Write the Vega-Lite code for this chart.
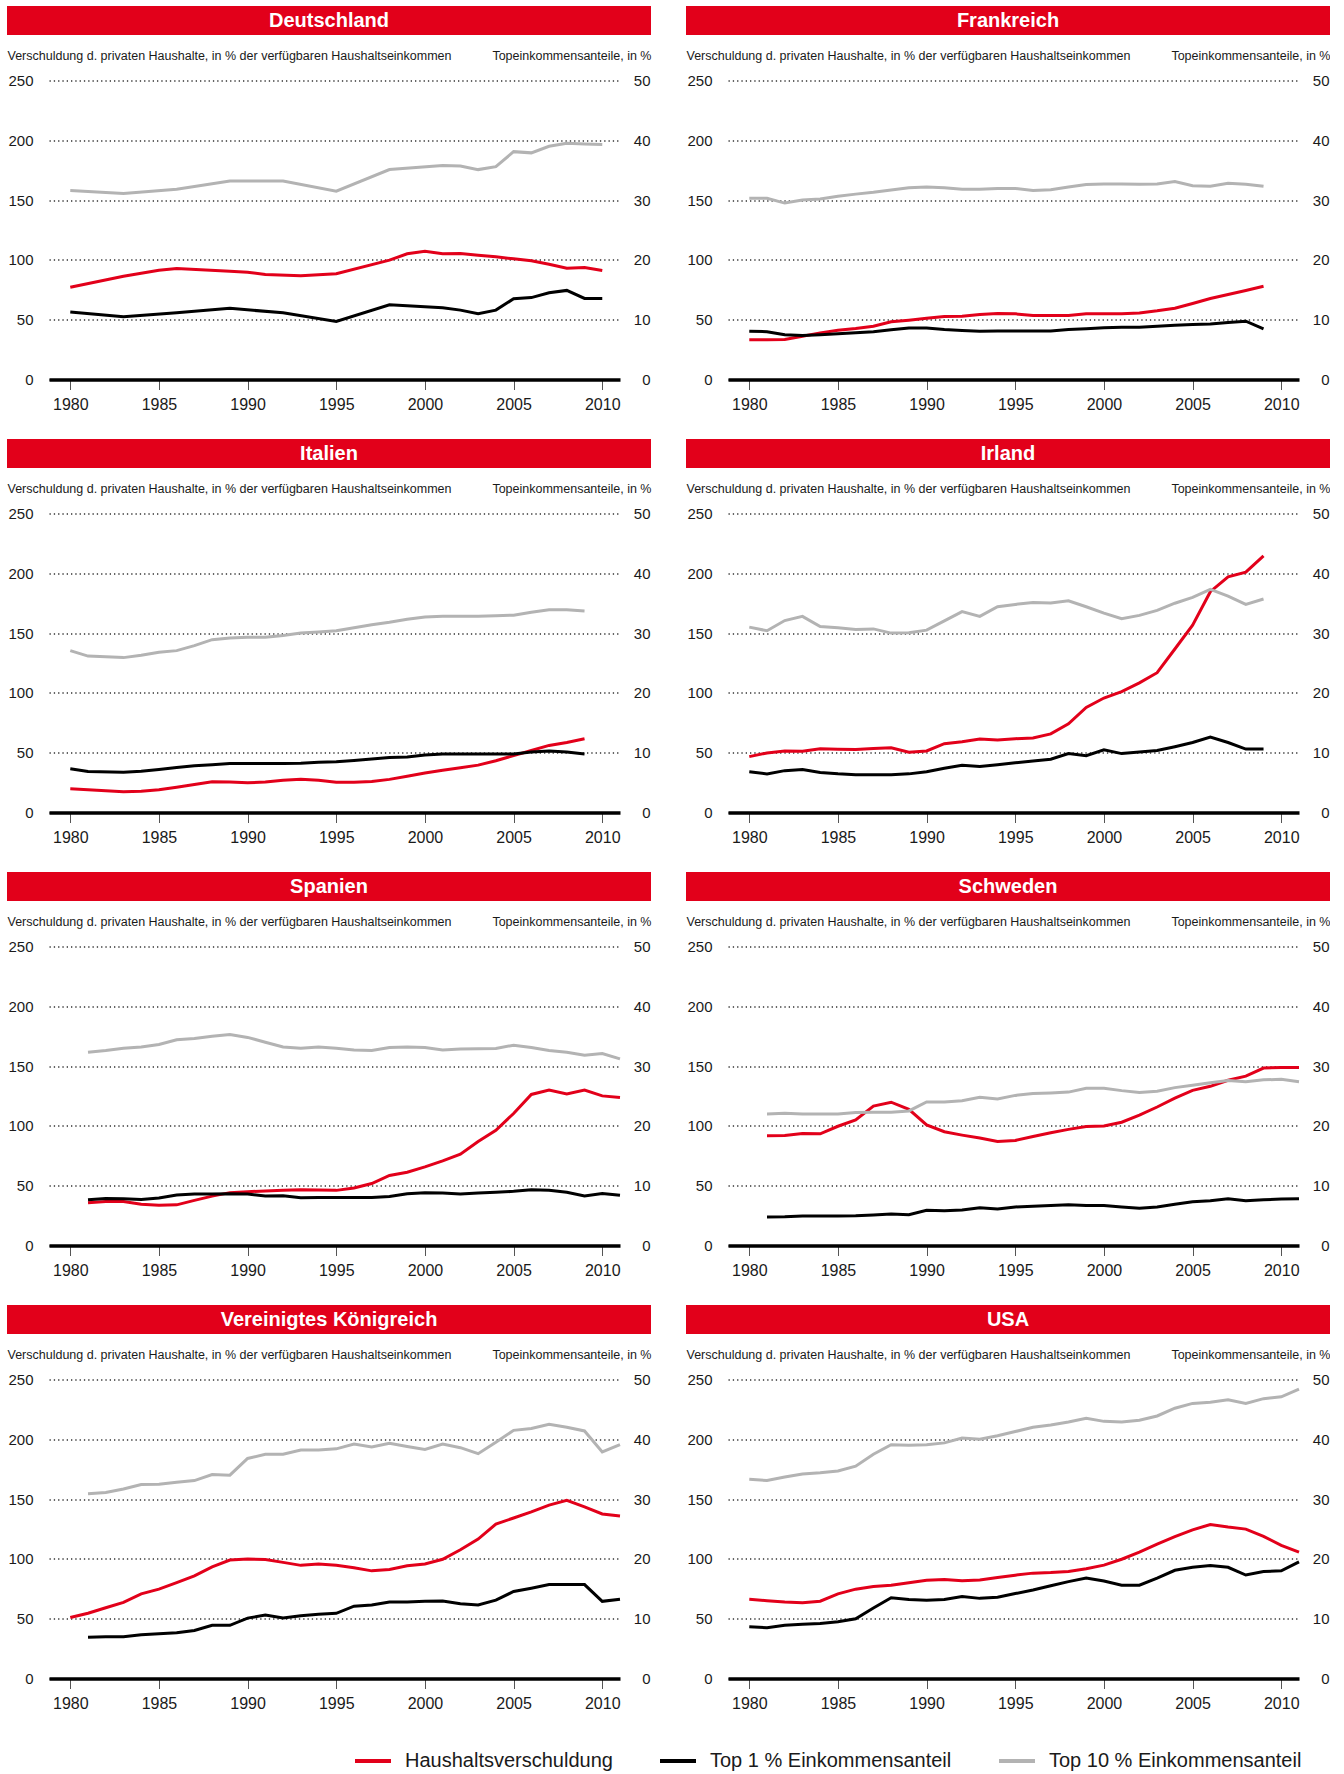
{
"$schema":"https://vega.github.io/schema/vega-lite/v6.json",
"padding":{"left":7,"top":6,"right":0,"bottom":0},
"background":"white",
"datasets":{"rows":[
{"c":"DE","year":1980,"d":77.2,"t1":11.3,"t10":31.6},
{"c":"DE","year":1983,"d":86.4,"t1":10.5,"t10":31.1},
{"c":"DE","year":1985,"d":91.4},
{"c":"DE","year":1986,"d":92.8,"t1":11.15,"t10":31.8},
{"c":"DE","year":1989,"d":90.6,"t1":11.9,"t10":33.2},
{"c":"DE","year":1990,"d":89.7},
{"c":"DE","year":1991,"d":87.8},
{"c":"DE","year":1992,"t1":11.15,"t10":33.2},
{"c":"DE","year":1993,"d":86.7},
{"c":"DE","year":1995,"d":88.4,"t1":9.7,"t10":31.5},
{"c":"DE","year":1998,"d":99.8,"t1":12.5,"t10":35.1},
{"c":"DE","year":1999,"d":105.1},
{"c":"DE","year":2000,"d":107.3},
{"c":"DE","year":2001,"d":105.1,"t1":12.0,"t10":35.8},
{"c":"DE","year":2002,"d":105.3,"t1":11.6,"t10":35.7},
{"c":"DE","year":2003,"d":103.9,"t1":11.0,"t10":35.1},
{"c":"DE","year":2004,"d":102.6,"t1":11.6,"t10":35.6},
{"c":"DE","year":2005,"d":100.9,"t1":13.5,"t10":38.1},
{"c":"DE","year":2006,"d":99.2,"t1":13.7,"t10":37.9},
{"c":"DE","year":2007,"d":96.4,"t1":14.5,"t10":39.0},
{"c":"DE","year":2008,"d":93.1,"t1":14.9,"t10":39.5},
{"c":"DE","year":2009,"d":93.6,"t1":13.55,"t10":39.4},
{"c":"DE","year":2010,"d":91.1,"t1":13.55,"t10":39.3},
{"c":"FR","year":1980,"d":33.2,"t1":8.08,"t10":30.3},
{"c":"FR","year":1981,"d":33.2,"t1":8.0,"t10":30.3},
{"c":"FR","year":1982,"d":33.4,"t1":7.47,"t10":29.5},
{"c":"FR","year":1983,"d":36.2,"t1":7.36,"t10":30.0},
{"c":"FR","year":1984,"d":39.0,"t1":7.47,"t10":30.2},
{"c":"FR","year":1985,"d":41.2,"t1":7.64,"t10":30.65},
{"c":"FR","year":1986,"d":42.6,"t1":7.8,"t10":31.0},
{"c":"FR","year":1987,"d":44.6,"t1":8.0,"t10":31.3},
{"c":"FR","year":1988,"d":48.2,"t1":8.3,"t10":31.7},
{"c":"FR","year":1989,"d":49.6,"t1":8.6,"t10":32.05},
{"c":"FR","year":1990,"d":51.3,"t1":8.6,"t10":32.2},
{"c":"FR","year":1991,"d":52.7,"t1":8.36,"t10":32.05},
{"c":"FR","year":1992,"d":52.9,"t1":8.2,"t10":31.8},
{"c":"FR","year":1993,"d":54.3,"t1":8.08,"t10":31.8},
{"c":"FR","year":1994,"d":55.2,"t1":8.13,"t10":31.95},
{"c":"FR","year":1995,"d":54.9,"t1":8.13,"t10":31.95},
{"c":"FR","year":1996,"d":53.5,"t1":8.13,"t10":31.6},
{"c":"FR","year":1997,"d":53.5,"t1":8.13,"t10":31.75},
{"c":"FR","year":1998,"d":53.5,"t1":8.36,"t10":32.2},
{"c":"FR","year":1999,"d":54.9,"t1":8.47,"t10":32.6},
{"c":"FR","year":2000,"d":54.9,"t1":8.64,"t10":32.7},
{"c":"FR","year":2001,"d":54.9,"t1":8.75,"t10":32.7},
{"c":"FR","year":2002,"d":55.7,"t1":8.75,"t10":32.65},
{"c":"FR","year":2003,"d":57.4,"t1":8.92,"t10":32.7},
{"c":"FR","year":2004,"d":59.6,"t1":9.09,"t10":33.1},
{"c":"FR","year":2005,"d":63.5,"t1":9.2,"t10":32.4},
{"c":"FR","year":2006,"d":67.7,"t1":9.3,"t10":32.3},
{"c":"FR","year":2007,"d":71.1,"t1":9.53,"t10":32.8},
{"c":"FR","year":2008,"d":74.4,"t1":9.75,"t10":32.65},
{"c":"FR","year":2009,"d":78.0,"t1":8.47,"t10":32.3},
{"c":"IT","year":1980,"d":19.8,"t1":7.3,"t10":27.07},
{"c":"IT","year":1981,"d":19.0,"t1":6.85,"t10":26.16},
{"c":"IT","year":1983,"d":17.3,"t1":6.74,"t10":25.9},
{"c":"IT","year":1984,"d":17.8,"t1":6.9,"t10":26.3},
{"c":"IT","year":1985,"d":19.0,"t1":7.2,"t10":26.8},
{"c":"IT","year":1986,"d":21.2,"t1":7.53,"t10":27.07},
{"c":"IT","year":1987,"d":23.5,"t1":7.8,"t10":27.9},
{"c":"IT","year":1988,"d":25.8,"t1":7.98,"t10":28.9},
{"c":"IT","year":1989,"d":25.5,"t1":8.2,"t10":29.2},
{"c":"IT","year":1990,"d":24.9,"t1":8.2,"t10":29.3},
{"c":"IT","year":1991,"d":25.5,"t1":8.2,"t10":29.3},
{"c":"IT","year":1992,"d":26.9,"t1":8.2,"t10":29.6},
{"c":"IT","year":1993,"d":27.7,"t1":8.25,"t10":30.0},
{"c":"IT","year":1994,"d":26.9,"t1":8.4,"t10":30.2},
{"c":"IT","year":1995,"d":25.2,"t1":8.5,"t10":30.4},
{"c":"IT","year":1996,"d":25.2,"t1":8.7,"t10":30.9},
{"c":"IT","year":1997,"d":26.0,"t1":8.95,"t10":31.4},
{"c":"IT","year":1998,"d":27.7,"t1":9.2,"t10":31.8},
{"c":"IT","year":1999,"d":30.3,"t1":9.3,"t10":32.3},
{"c":"IT","year":2000,"d":33.1,"t1":9.6,"t10":32.7},
{"c":"IT","year":2001,"d":35.4,"t1":9.8,"t10":32.8},
{"c":"IT","year":2002,"d":37.4,"t1":9.8,"t10":32.8},
{"c":"IT","year":2003,"d":39.6,"t1":9.8,"t10":32.8},
{"c":"IT","year":2004,"d":43.3,"t1":9.8,"t10":32.9},
{"c":"IT","year":2005,"d":47.6,"t1":9.8,"t10":33.0},
{"c":"IT","year":2006,"d":51.8,"t1":10.1,"t10":33.5},
{"c":"IT","year":2007,"d":56.1,"t1":10.3,"t10":33.9},
{"c":"IT","year":2008,"d":58.6,"t1":10.1,"t10":33.9},
{"c":"IT","year":2009,"d":61.7,"t1":9.8,"t10":33.7},
{"c":"IE","year":1980,"d":46.7,"t1":6.8,"t10":31.0},
{"c":"IE","year":1981,"d":49.8,"t1":6.46,"t10":30.4},
{"c":"IE","year":1982,"d":51.5,"t1":7.0,"t10":32.1},
{"c":"IE","year":1983,"d":51.2,"t1":7.2,"t10":32.8},
{"c":"IE","year":1984,"d":53.2,"t1":6.7,"t10":31.1},
{"c":"IE","year":1985,"d":52.9,"t1":6.46,"t10":30.9},
{"c":"IE","year":1986,"d":52.7,"t1":6.3,"t10":30.6},
{"c":"IE","year":1987,"d":53.5,"t1":6.3,"t10":30.7},
{"c":"IE","year":1988,"d":54.1,"t1":6.3,"t10":30.0},
{"c":"IE","year":1989,"d":50.4,"t1":6.46,"t10":30.07},
{"c":"IE","year":1990,"d":51.5,"t1":6.8,"t10":30.5},
{"c":"IE","year":1991,"d":57.5,"t1":7.4,"t10":32.05},
{"c":"IE","year":1992,"d":59.2,"t1":7.9,"t10":33.6},
{"c":"IE","year":1993,"d":61.4,"t1":7.7,"t10":32.8},
{"c":"IE","year":1994,"d":60.6,"t1":8.0,"t10":34.4},
{"c":"IE","year":1995,"d":61.7,"t1":8.3,"t10":34.8},
{"c":"IE","year":1996,"d":62.3,"t1":8.6,"t10":35.1},
{"c":"IE","year":1997,"d":65.7,"t1":8.9,"t10":35.05},
{"c":"IE","year":1998,"d":74.2,"t1":9.85,"t10":35.4},
{"c":"IE","year":1999,"d":87.8,"t1":9.5,"t10":34.4},
{"c":"IE","year":2000,"d":95.7,"t1":10.5,"t10":33.35},
{"c":"IE","year":2001,"d":101.1,"t1":9.85,"t10":32.4},
{"c":"IE","year":2002,"d":108.4,"t1":10.1,"t10":32.96},
{"c":"IE","year":2003,"d":116.9,"t1":10.36,"t10":33.8},
{"c":"IE","year":2004,"d":136.7,"t1":11.0,"t10":35.0},
{"c":"IE","year":2005,"d":156.6,"t1":11.7,"t10":35.96},
{"c":"IE","year":2006,"d":184.6,"t1":12.6,"t10":37.3},
{"c":"IE","year":2007,"d":197.1,"t1":11.7,"t10":36.2},
{"c":"IE","year":2008,"d":201.0,"t1":10.6,"t10":34.8},
{"c":"IE","year":2009,"d":214.6,"t1":10.6,"t10":35.7},
{"c":"ES","year":1981,"d":35.7,"t1":7.64,"t10":32.3},
{"c":"ES","year":1982,"d":36.8,"t1":7.87,"t10":32.6},
{"c":"ES","year":1983,"d":36.8,"t1":7.8,"t10":33.0},
{"c":"ES","year":1984,"d":34.5,"t1":7.7,"t10":33.2},
{"c":"ES","year":1985,"d":33.7,"t1":7.93,"t10":33.6},
{"c":"ES","year":1986,"d":34.0,"t1":8.44,"t10":34.4},
{"c":"ES","year":1987,"d":37.7,"t1":8.6,"t10":34.6},
{"c":"ES","year":1988,"d":41.3,"t1":8.6,"t10":35.0},
{"c":"ES","year":1989,"d":44.2,"t1":8.66,"t10":35.3},
{"c":"ES","year":1990,"d":45.0,"t1":8.6,"t10":34.8},
{"c":"ES","year":1991,"d":45.6,"t1":8.27,"t10":34.0},
{"c":"ES","year":1992,"d":46.1,"t1":8.3,"t10":33.2},
{"c":"ES","year":1993,"d":46.7,"t1":7.98,"t10":33.0},
{"c":"ES","year":1994,"d":46.4,"t1":8.04,"t10":33.2},
{"c":"ES","year":1995,"d":46.1,"t1":8.04,"t10":33.0},
{"c":"ES","year":1996,"d":48.1,"t1":8.04,"t10":32.7},
{"c":"ES","year":1997,"d":51.8,"t1":8.04,"t10":32.6},
{"c":"ES","year":1998,"d":58.6,"t1":8.2,"t10":33.1},
{"c":"ES","year":1999,"d":61.2,"t1":8.66,"t10":33.2},
{"c":"ES","year":2000,"d":65.7,"t1":8.83,"t10":33.1},
{"c":"ES","year":2001,"d":70.8,"t1":8.78,"t10":32.7},
{"c":"ES","year":2002,"d":76.4,"t1":8.6,"t10":32.85},
{"c":"ES","year":2003,"d":86.9,"t1":8.78,"t10":32.9},
{"c":"ES","year":2004,"d":96.3,"t1":8.9,"t10":32.95},
{"c":"ES","year":2005,"d":110.4,"t1":9.06,"t10":33.5},
{"c":"ES","year":2006,"d":126.3,"t1":9.34,"t10":33.1},
{"c":"ES","year":2007,"d":130.0,"t1":9.23,"t10":32.6},
{"c":"ES","year":2008,"d":126.6,"t1":8.9,"t10":32.3},
{"c":"ES","year":2009,"d":130.0,"t1":8.3,"t10":31.8},
{"c":"ES","year":2010,"d":125.1,"t1":8.7,"t10":32.1},
{"c":"ES","year":2011,"d":123.7,"t1":8.4,"t10":31.2},
{"c":"SE","year":1981,"d":91.7,"t1":4.76,"t10":22.0},
{"c":"SE","year":1982,"d":92.0,"t1":4.8,"t10":22.1},
{"c":"SE","year":1983,"d":93.7,"t1":4.93,"t10":22.0},
{"c":"SE","year":1984,"d":93.4,"t1":4.93,"t10":22.0},
{"c":"SE","year":1985,"d":99.7,"t1":4.93,"t10":22.0},
{"c":"SE","year":1986,"d":105.0,"t1":4.98,"t10":22.25},
{"c":"SE","year":1987,"d":116.6,"t1":5.1,"t10":22.3},
{"c":"SE","year":1988,"d":119.8,"t1":5.27,"t10":22.3},
{"c":"SE","year":1989,"d":113.8,"t1":5.15,"t10":22.5},
{"c":"SE","year":1990,"d":100.8,"t1":5.9,"t10":24.0},
{"c":"SE","year":1991,"d":95.1,"t1":5.83,"t10":24.0},
{"c":"SE","year":1992,"d":92.3,"t1":5.95,"t10":24.2},
{"c":"SE","year":1993,"d":89.8,"t1":6.3,"t10":24.8},
{"c":"SE","year":1994,"d":86.9,"t1":6.1,"t10":24.5},
{"c":"SE","year":1995,"d":87.8,"t1":6.45,"t10":25.1},
{"c":"SE","year":1996,"d":91.2,"t1":6.57,"t10":25.4},
{"c":"SE","year":1997,"d":94.3,"t1":6.68,"t10":25.5},
{"c":"SE","year":1998,"d":97.1,"t1":6.8,"t10":25.65},
{"c":"SE","year":1999,"d":99.4,"t1":6.68,"t10":26.3},
{"c":"SE","year":2000,"d":99.9,"t1":6.68,"t10":26.3},
{"c":"SE","year":2001,"d":103.1,"t1":6.45,"t10":25.9},
{"c":"SE","year":2002,"d":109.0,"t1":6.23,"t10":25.6},
{"c":"SE","year":2003,"d":115.8,"t1":6.45,"t10":25.8},
{"c":"SE","year":2004,"d":123.2,"t1":6.9,"t10":26.4},
{"c":"SE","year":2005,"d":129.7,"t1":7.3,"t10":26.8},
{"c":"SE","year":2006,"d":133.1,"t1":7.5,"t10":27.2},
{"c":"SE","year":2007,"d":138.2,"t1":7.8,"t10":27.6},
{"c":"SE","year":2008,"d":141.6,"t1":7.47,"t10":27.4},
{"c":"SE","year":2009,"d":148.4,"t1":7.64,"t10":27.7},
{"c":"SE","year":2010,"d":148.9,"t1":7.76,"t10":27.8},
{"c":"SE","year":2011,"d":148.9,"t1":7.8,"t10":27.4},
{"c":"UK","year":1980,"d":51.0},
{"c":"UK","year":1981,"d":54.6,"t1":6.9,"t10":30.9},
{"c":"UK","year":1982,"d":59.2,"t1":7.0,"t10":31.1},
{"c":"UK","year":1983,"d":63.7,"t1":7.0,"t10":31.7},
{"c":"UK","year":1984,"d":70.8,"t1":7.3,"t10":32.45},
{"c":"UK","year":1985,"d":74.7,"t1":7.5,"t10":32.5},
{"c":"UK","year":1986,"d":80.1,"t1":7.64,"t10":32.8},
{"c":"UK","year":1987,"d":85.8,"t1":8.04,"t10":33.1},
{"c":"UK","year":1988,"d":93.4,"t1":8.9,"t10":34.1},
{"c":"UK","year":1989,"d":99.1,"t1":8.9,"t10":34.0},
{"c":"UK","year":1990,"d":99.9,"t1":10.1,"t10":36.8},
{"c":"UK","year":1991,"d":99.4,"t1":10.6,"t10":37.5},
{"c":"UK","year":1992,"d":97.1,"t1":10.1,"t10":37.5},
{"c":"UK","year":1993,"d":94.6,"t1":10.5,"t10":38.2},
{"c":"UK","year":1994,"d":95.7,"t1":10.76,"t10":38.2},
{"c":"UK","year":1995,"d":94.6,"t1":10.9,"t10":38.4},
{"c":"UK","year":1996,"d":92.6,"t1":12.1,"t10":39.2},
{"c":"UK","year":1997,"d":90.0,"t1":12.3,"t10":38.7},
{"c":"UK","year":1998,"d":91.2,"t1":12.8,"t10":39.35},
{"c":"UK","year":1999,"d":94.3,"t1":12.8,"t10":38.8},
{"c":"UK","year":2000,"d":95.7,"t1":12.9,"t10":38.3},
{"c":"UK","year":2001,"d":99.7,"t1":12.97,"t10":39.2},
{"c":"UK","year":2002,"d":107.6,"t1":12.5,"t10":38.6},
{"c":"UK","year":2003,"d":116.6,"t1":12.3,"t10":37.6},
{"c":"UK","year":2004,"d":129.1,"t1":13.1,"t10":39.5},
{"c":"UK","year":2005,"d":134.2,"t1":14.55,"t10":41.5},
{"c":"UK","year":2006,"d":139.3,"t1":15.1,"t10":41.8},
{"c":"UK","year":2007,"d":145.0,"t1":15.7,"t10":42.5},
{"c":"UK","year":2008,"d":148.9,"t1":15.7,"t10":42.0},
{"c":"UK","year":2009,"d":143.5,"t1":15.7,"t10":41.4},
{"c":"UK","year":2010,"d":137.6,"t1":12.9,"t10":37.9},
{"c":"UK","year":2011,"d":135.9,"t1":13.25,"t10":39.1},
{"c":"US","year":1980,"d":66.3,"t1":8.66,"t10":33.3},
{"c":"US","year":1981,"d":65.1,"t1":8.5,"t10":33.1},
{"c":"US","year":1982,"d":64.0,"t1":8.9,"t10":33.7},
{"c":"US","year":1983,"d":63.4,"t1":9.06,"t10":34.2},
{"c":"US","year":1984,"d":64.6,"t1":9.2,"t10":34.4},
{"c":"US","year":1985,"d":70.8,"t1":9.5,"t10":34.7},
{"c":"US","year":1986,"d":74.7,"t1":10.0,"t10":35.5},
{"c":"US","year":1987,"d":77.0,"t1":11.8,"t10":37.5},
{"c":"US","year":1988,"d":77.9,"t1":13.5,"t10":39.1},
{"c":"US","year":1989,"d":80.1,"t1":13.2,"t10":39.0},
{"c":"US","year":1990,"d":82.1,"t1":13.1,"t10":39.1},
{"c":"US","year":1991,"d":82.7,"t1":13.2,"t10":39.4},
{"c":"US","year":1992,"d":81.8,"t1":13.7,"t10":40.2},
{"c":"US","year":1993,"d":82.4,"t1":13.4,"t10":40.0},
{"c":"US","year":1994,"d":84.4,"t1":13.6,"t10":40.6},
{"c":"US","year":1995,"d":86.4,"t1":14.2,"t10":41.3},
{"c":"US","year":1996,"d":88.1,"t1":14.8,"t10":42.0},
{"c":"US","year":1997,"d":88.6,"t1":15.5,"t10":42.4},
{"c":"US","year":1998,"d":89.5,"t1":16.2,"t10":42.9},
{"c":"US","year":1999,"d":91.7,"t1":16.8,"t10":43.5},
{"c":"US","year":2000,"d":94.8,"t1":16.3,"t10":43.0},
{"c":"US","year":2001,"d":99.7,"t1":15.6,"t10":42.9},
{"c":"US","year":2002,"d":105.6,"t1":15.6,"t10":43.2},
{"c":"US","year":2003,"d":112.4,"t1":16.8,"t10":43.9},
{"c":"US","year":2004,"d":118.6,"t1":18.1,"t10":45.2},
{"c":"US","year":2005,"d":124.3,"t1":18.6,"t10":46.0},
{"c":"US","year":2006,"d":128.8,"t1":18.9,"t10":46.2},
{"c":"US","year":2007,"d":126.6,"t1":18.6,"t10":46.6},
{"c":"US","year":2008,"d":124.9,"t1":17.3,"t10":46.0},
{"c":"US","year":2009,"d":118.9,"t1":17.9,"t10":46.8},
{"c":"US","year":2010,"d":111.3,"t1":18.0,"t10":47.1},
{"c":"US","year":2011,"d":105.6,"t1":19.5,"t10":48.4}
]},
"spacing":26,
"vconcat":[
{"spacing":35,"hconcat":[
{"spacing":14.5,"vconcat":[
{"width":644,"height":29,"view":{"fill":"#e2001a","stroke":null},"data":{"values":[{"t":"Deutschland"}]},"mark":{"type":"text","color":"#ffffff","font":"Liberation Sans","fontSize":20,"fontWeight":"bold"},"encoding":{"text":{"field":"t","type":"nominal"}}},
{"width":644,"height":299,"data":{"name":"rows"},"transform":[{"filter":"datum.c=='DE'"}],"resolve":{"scale":{"y":"independent"}},"layer":[
{"transform":[{"filter":"isValid(datum.d)"}],"mark":{"type":"line","strokeWidth":3},"encoding":{"x":{"field":"year","type":"quantitative","scale":{"domain":[1978.8,2011],"range":[42,613],"nice":false,"zero":false},"axis":{"values":[1980,1985,1990,1995,2000,2005,2010],"format":"d","title":null,"grid":false,"domainColor":"#000000","domainWidth":3.5,"tickColor":"#555555","tickWidth":1,"tickSize":10,"labelPadding":7,"labelFlush":false,"labelOverlap":false,"labelFont":"Liberation Sans","labelFontSize":16,"labelColor":"#1a1a1a"}},"y":{"field":"d","type":"quantitative","scale":{"domain":[0,250],"nice":false},"axis":{"orient":"left","offset":-42,"values":[0,50,100,150,200,250],"domain":false,"ticks":false,"tickSize":0,"labelPadding":16,"labelFont":"Liberation Sans","labelFontSize":15,"labelColor":"#1a1a1a","grid":true,"gridDash":[1.3,3],"gridColor":"#333333","gridWidth":1.3,"title":"Verschuldung d. privaten Haushalte, in % der verfügbaren Haushaltseinkommen","titleAngle":0,"titleAlign":"left","titleBaseline":"middle","titleX":-42,"titleY":-25,"titleFont":"Liberation Sans","titleFontSize":12.5,"titleFontWeight":"normal","titleColor":"#1a1a1a"}},"color":{"datum":"d","type":"nominal","scale":{"domain":["d","t1","t10"],"range":["#e2001a","#000000","#b3b3b3"]},"legend":{"title":null,"labelExpr":"datum.label=='d'?'Haushaltsverschuldung':datum.label=='t1'?'Top 1 % Einkommensanteil':'Top 10 % Einkommensanteil'"}}}},
{"transform":[{"fold":["t1","t10"],"as":["s","v"]},{"filter":"isValid(datum.v)"}],"mark":{"type":"line","strokeWidth":3},"encoding":{"x":{"field":"year","type":"quantitative"},"y":{"field":"v","type":"quantitative","scale":{"domain":[0,50],"nice":false},"axis":{"orient":"right","offset":-31,"values":[0,10,20,30,40,50],"domain":false,"ticks":false,"tickSize":0,"labelPadding":30,"labelAlign":"right","labelFont":"Liberation Sans","labelFontSize":15,"labelColor":"#1a1a1a","grid":false,"title":"Topeinkommensanteile, in %","titleAngle":0,"titleAlign":"right","titleBaseline":"middle","titleX":31,"titleY":-25,"titleFont":"Liberation Sans","titleFontSize":12.5,"titleFontWeight":"normal","titleColor":"#1a1a1a"}},"color":{"field":"s","type":"nominal","legend":{"title":null,"labelExpr":"datum.label=='d'?'Haushaltsverschuldung':datum.label=='t1'?'Top 1 % Einkommensanteil':'Top 10 % Einkommensanteil'"}}}}
]}]},
{"spacing":14.5,"vconcat":[
{"width":644,"height":29,"view":{"fill":"#e2001a","stroke":null},"data":{"values":[{"t":"Frankreich"}]},"mark":{"type":"text","color":"#ffffff","font":"Liberation Sans","fontSize":20,"fontWeight":"bold"},"encoding":{"text":{"field":"t","type":"nominal"}}},
{"width":644,"height":299,"data":{"name":"rows"},"transform":[{"filter":"datum.c=='FR'"}],"resolve":{"scale":{"y":"independent"}},"layer":[
{"transform":[{"filter":"isValid(datum.d)"}],"mark":{"type":"line","strokeWidth":3},"encoding":{"x":{"field":"year","type":"quantitative","scale":{"domain":[1978.8,2011],"range":[42,613],"nice":false,"zero":false},"axis":{"values":[1980,1985,1990,1995,2000,2005,2010],"format":"d","title":null,"grid":false,"domainColor":"#000000","domainWidth":3.5,"tickColor":"#555555","tickWidth":1,"tickSize":10,"labelPadding":7,"labelFlush":false,"labelOverlap":false,"labelFont":"Liberation Sans","labelFontSize":16,"labelColor":"#1a1a1a"}},"y":{"field":"d","type":"quantitative","scale":{"domain":[0,250],"nice":false},"axis":{"orient":"left","offset":-42,"values":[0,50,100,150,200,250],"domain":false,"ticks":false,"tickSize":0,"labelPadding":16,"labelFont":"Liberation Sans","labelFontSize":15,"labelColor":"#1a1a1a","grid":true,"gridDash":[1.3,3],"gridColor":"#333333","gridWidth":1.3,"title":"Verschuldung d. privaten Haushalte, in % der verfügbaren Haushaltseinkommen","titleAngle":0,"titleAlign":"left","titleBaseline":"middle","titleX":-42,"titleY":-25,"titleFont":"Liberation Sans","titleFontSize":12.5,"titleFontWeight":"normal","titleColor":"#1a1a1a"}},"color":{"datum":"d","type":"nominal","scale":{"domain":["d","t1","t10"],"range":["#e2001a","#000000","#b3b3b3"]},"legend":{"title":null,"labelExpr":"datum.label=='d'?'Haushaltsverschuldung':datum.label=='t1'?'Top 1 % Einkommensanteil':'Top 10 % Einkommensanteil'"}}}},
{"transform":[{"fold":["t1","t10"],"as":["s","v"]},{"filter":"isValid(datum.v)"}],"mark":{"type":"line","strokeWidth":3},"encoding":{"x":{"field":"year","type":"quantitative"},"y":{"field":"v","type":"quantitative","scale":{"domain":[0,50],"nice":false},"axis":{"orient":"right","offset":-31,"values":[0,10,20,30,40,50],"domain":false,"ticks":false,"tickSize":0,"labelPadding":30,"labelAlign":"right","labelFont":"Liberation Sans","labelFontSize":15,"labelColor":"#1a1a1a","grid":false,"title":"Topeinkommensanteile, in %","titleAngle":0,"titleAlign":"right","titleBaseline":"middle","titleX":31,"titleY":-25,"titleFont":"Liberation Sans","titleFontSize":12.5,"titleFontWeight":"normal","titleColor":"#1a1a1a"}},"color":{"field":"s","type":"nominal","legend":{"title":null,"labelExpr":"datum.label=='d'?'Haushaltsverschuldung':datum.label=='t1'?'Top 1 % Einkommensanteil':'Top 10 % Einkommensanteil'"}}}}
]}]}
]},
{"spacing":35,"hconcat":[
{"spacing":14.5,"vconcat":[
{"width":644,"height":29,"view":{"fill":"#e2001a","stroke":null},"data":{"values":[{"t":"Italien"}]},"mark":{"type":"text","color":"#ffffff","font":"Liberation Sans","fontSize":20,"fontWeight":"bold"},"encoding":{"text":{"field":"t","type":"nominal"}}},
{"width":644,"height":299,"data":{"name":"rows"},"transform":[{"filter":"datum.c=='IT'"}],"resolve":{"scale":{"y":"independent"}},"layer":[
{"transform":[{"filter":"isValid(datum.d)"}],"mark":{"type":"line","strokeWidth":3},"encoding":{"x":{"field":"year","type":"quantitative","scale":{"domain":[1978.8,2011],"range":[42,613],"nice":false,"zero":false},"axis":{"values":[1980,1985,1990,1995,2000,2005,2010],"format":"d","title":null,"grid":false,"domainColor":"#000000","domainWidth":3.5,"tickColor":"#555555","tickWidth":1,"tickSize":10,"labelPadding":7,"labelFlush":false,"labelOverlap":false,"labelFont":"Liberation Sans","labelFontSize":16,"labelColor":"#1a1a1a"}},"y":{"field":"d","type":"quantitative","scale":{"domain":[0,250],"nice":false},"axis":{"orient":"left","offset":-42,"values":[0,50,100,150,200,250],"domain":false,"ticks":false,"tickSize":0,"labelPadding":16,"labelFont":"Liberation Sans","labelFontSize":15,"labelColor":"#1a1a1a","grid":true,"gridDash":[1.3,3],"gridColor":"#333333","gridWidth":1.3,"title":"Verschuldung d. privaten Haushalte, in % der verfügbaren Haushaltseinkommen","titleAngle":0,"titleAlign":"left","titleBaseline":"middle","titleX":-42,"titleY":-25,"titleFont":"Liberation Sans","titleFontSize":12.5,"titleFontWeight":"normal","titleColor":"#1a1a1a"}},"color":{"datum":"d","type":"nominal","scale":{"domain":["d","t1","t10"],"range":["#e2001a","#000000","#b3b3b3"]},"legend":{"title":null,"labelExpr":"datum.label=='d'?'Haushaltsverschuldung':datum.label=='t1'?'Top 1 % Einkommensanteil':'Top 10 % Einkommensanteil'"}}}},
{"transform":[{"fold":["t1","t10"],"as":["s","v"]},{"filter":"isValid(datum.v)"}],"mark":{"type":"line","strokeWidth":3},"encoding":{"x":{"field":"year","type":"quantitative"},"y":{"field":"v","type":"quantitative","scale":{"domain":[0,50],"nice":false},"axis":{"orient":"right","offset":-31,"values":[0,10,20,30,40,50],"domain":false,"ticks":false,"tickSize":0,"labelPadding":30,"labelAlign":"right","labelFont":"Liberation Sans","labelFontSize":15,"labelColor":"#1a1a1a","grid":false,"title":"Topeinkommensanteile, in %","titleAngle":0,"titleAlign":"right","titleBaseline":"middle","titleX":31,"titleY":-25,"titleFont":"Liberation Sans","titleFontSize":12.5,"titleFontWeight":"normal","titleColor":"#1a1a1a"}},"color":{"field":"s","type":"nominal","legend":{"title":null,"labelExpr":"datum.label=='d'?'Haushaltsverschuldung':datum.label=='t1'?'Top 1 % Einkommensanteil':'Top 10 % Einkommensanteil'"}}}}
]}]},
{"spacing":14.5,"vconcat":[
{"width":644,"height":29,"view":{"fill":"#e2001a","stroke":null},"data":{"values":[{"t":"Irland"}]},"mark":{"type":"text","color":"#ffffff","font":"Liberation Sans","fontSize":20,"fontWeight":"bold"},"encoding":{"text":{"field":"t","type":"nominal"}}},
{"width":644,"height":299,"data":{"name":"rows"},"transform":[{"filter":"datum.c=='IE'"}],"resolve":{"scale":{"y":"independent"}},"layer":[
{"transform":[{"filter":"isValid(datum.d)"}],"mark":{"type":"line","strokeWidth":3},"encoding":{"x":{"field":"year","type":"quantitative","scale":{"domain":[1978.8,2011],"range":[42,613],"nice":false,"zero":false},"axis":{"values":[1980,1985,1990,1995,2000,2005,2010],"format":"d","title":null,"grid":false,"domainColor":"#000000","domainWidth":3.5,"tickColor":"#555555","tickWidth":1,"tickSize":10,"labelPadding":7,"labelFlush":false,"labelOverlap":false,"labelFont":"Liberation Sans","labelFontSize":16,"labelColor":"#1a1a1a"}},"y":{"field":"d","type":"quantitative","scale":{"domain":[0,250],"nice":false},"axis":{"orient":"left","offset":-42,"values":[0,50,100,150,200,250],"domain":false,"ticks":false,"tickSize":0,"labelPadding":16,"labelFont":"Liberation Sans","labelFontSize":15,"labelColor":"#1a1a1a","grid":true,"gridDash":[1.3,3],"gridColor":"#333333","gridWidth":1.3,"title":"Verschuldung d. privaten Haushalte, in % der verfügbaren Haushaltseinkommen","titleAngle":0,"titleAlign":"left","titleBaseline":"middle","titleX":-42,"titleY":-25,"titleFont":"Liberation Sans","titleFontSize":12.5,"titleFontWeight":"normal","titleColor":"#1a1a1a"}},"color":{"datum":"d","type":"nominal","scale":{"domain":["d","t1","t10"],"range":["#e2001a","#000000","#b3b3b3"]},"legend":{"title":null,"labelExpr":"datum.label=='d'?'Haushaltsverschuldung':datum.label=='t1'?'Top 1 % Einkommensanteil':'Top 10 % Einkommensanteil'"}}}},
{"transform":[{"fold":["t1","t10"],"as":["s","v"]},{"filter":"isValid(datum.v)"}],"mark":{"type":"line","strokeWidth":3},"encoding":{"x":{"field":"year","type":"quantitative"},"y":{"field":"v","type":"quantitative","scale":{"domain":[0,50],"nice":false},"axis":{"orient":"right","offset":-31,"values":[0,10,20,30,40,50],"domain":false,"ticks":false,"tickSize":0,"labelPadding":30,"labelAlign":"right","labelFont":"Liberation Sans","labelFontSize":15,"labelColor":"#1a1a1a","grid":false,"title":"Topeinkommensanteile, in %","titleAngle":0,"titleAlign":"right","titleBaseline":"middle","titleX":31,"titleY":-25,"titleFont":"Liberation Sans","titleFontSize":12.5,"titleFontWeight":"normal","titleColor":"#1a1a1a"}},"color":{"field":"s","type":"nominal","legend":{"title":null,"labelExpr":"datum.label=='d'?'Haushaltsverschuldung':datum.label=='t1'?'Top 1 % Einkommensanteil':'Top 10 % Einkommensanteil'"}}}}
]}]}
]},
{"spacing":35,"hconcat":[
{"spacing":14.5,"vconcat":[
{"width":644,"height":29,"view":{"fill":"#e2001a","stroke":null},"data":{"values":[{"t":"Spanien"}]},"mark":{"type":"text","color":"#ffffff","font":"Liberation Sans","fontSize":20,"fontWeight":"bold"},"encoding":{"text":{"field":"t","type":"nominal"}}},
{"width":644,"height":299,"data":{"name":"rows"},"transform":[{"filter":"datum.c=='ES'"}],"resolve":{"scale":{"y":"independent"}},"layer":[
{"transform":[{"filter":"isValid(datum.d)"}],"mark":{"type":"line","strokeWidth":3},"encoding":{"x":{"field":"year","type":"quantitative","scale":{"domain":[1978.8,2011],"range":[42,613],"nice":false,"zero":false},"axis":{"values":[1980,1985,1990,1995,2000,2005,2010],"format":"d","title":null,"grid":false,"domainColor":"#000000","domainWidth":3.5,"tickColor":"#555555","tickWidth":1,"tickSize":10,"labelPadding":7,"labelFlush":false,"labelOverlap":false,"labelFont":"Liberation Sans","labelFontSize":16,"labelColor":"#1a1a1a"}},"y":{"field":"d","type":"quantitative","scale":{"domain":[0,250],"nice":false},"axis":{"orient":"left","offset":-42,"values":[0,50,100,150,200,250],"domain":false,"ticks":false,"tickSize":0,"labelPadding":16,"labelFont":"Liberation Sans","labelFontSize":15,"labelColor":"#1a1a1a","grid":true,"gridDash":[1.3,3],"gridColor":"#333333","gridWidth":1.3,"title":"Verschuldung d. privaten Haushalte, in % der verfügbaren Haushaltseinkommen","titleAngle":0,"titleAlign":"left","titleBaseline":"middle","titleX":-42,"titleY":-25,"titleFont":"Liberation Sans","titleFontSize":12.5,"titleFontWeight":"normal","titleColor":"#1a1a1a"}},"color":{"datum":"d","type":"nominal","scale":{"domain":["d","t1","t10"],"range":["#e2001a","#000000","#b3b3b3"]},"legend":{"title":null,"labelExpr":"datum.label=='d'?'Haushaltsverschuldung':datum.label=='t1'?'Top 1 % Einkommensanteil':'Top 10 % Einkommensanteil'"}}}},
{"transform":[{"fold":["t1","t10"],"as":["s","v"]},{"filter":"isValid(datum.v)"}],"mark":{"type":"line","strokeWidth":3},"encoding":{"x":{"field":"year","type":"quantitative"},"y":{"field":"v","type":"quantitative","scale":{"domain":[0,50],"nice":false},"axis":{"orient":"right","offset":-31,"values":[0,10,20,30,40,50],"domain":false,"ticks":false,"tickSize":0,"labelPadding":30,"labelAlign":"right","labelFont":"Liberation Sans","labelFontSize":15,"labelColor":"#1a1a1a","grid":false,"title":"Topeinkommensanteile, in %","titleAngle":0,"titleAlign":"right","titleBaseline":"middle","titleX":31,"titleY":-25,"titleFont":"Liberation Sans","titleFontSize":12.5,"titleFontWeight":"normal","titleColor":"#1a1a1a"}},"color":{"field":"s","type":"nominal","legend":{"title":null,"labelExpr":"datum.label=='d'?'Haushaltsverschuldung':datum.label=='t1'?'Top 1 % Einkommensanteil':'Top 10 % Einkommensanteil'"}}}}
]}]},
{"spacing":14.5,"vconcat":[
{"width":644,"height":29,"view":{"fill":"#e2001a","stroke":null},"data":{"values":[{"t":"Schweden"}]},"mark":{"type":"text","color":"#ffffff","font":"Liberation Sans","fontSize":20,"fontWeight":"bold"},"encoding":{"text":{"field":"t","type":"nominal"}}},
{"width":644,"height":299,"data":{"name":"rows"},"transform":[{"filter":"datum.c=='SE'"}],"resolve":{"scale":{"y":"independent"}},"layer":[
{"transform":[{"filter":"isValid(datum.d)"}],"mark":{"type":"line","strokeWidth":3},"encoding":{"x":{"field":"year","type":"quantitative","scale":{"domain":[1978.8,2011],"range":[42,613],"nice":false,"zero":false},"axis":{"values":[1980,1985,1990,1995,2000,2005,2010],"format":"d","title":null,"grid":false,"domainColor":"#000000","domainWidth":3.5,"tickColor":"#555555","tickWidth":1,"tickSize":10,"labelPadding":7,"labelFlush":false,"labelOverlap":false,"labelFont":"Liberation Sans","labelFontSize":16,"labelColor":"#1a1a1a"}},"y":{"field":"d","type":"quantitative","scale":{"domain":[0,250],"nice":false},"axis":{"orient":"left","offset":-42,"values":[0,50,100,150,200,250],"domain":false,"ticks":false,"tickSize":0,"labelPadding":16,"labelFont":"Liberation Sans","labelFontSize":15,"labelColor":"#1a1a1a","grid":true,"gridDash":[1.3,3],"gridColor":"#333333","gridWidth":1.3,"title":"Verschuldung d. privaten Haushalte, in % der verfügbaren Haushaltseinkommen","titleAngle":0,"titleAlign":"left","titleBaseline":"middle","titleX":-42,"titleY":-25,"titleFont":"Liberation Sans","titleFontSize":12.5,"titleFontWeight":"normal","titleColor":"#1a1a1a"}},"color":{"datum":"d","type":"nominal","scale":{"domain":["d","t1","t10"],"range":["#e2001a","#000000","#b3b3b3"]},"legend":{"title":null,"labelExpr":"datum.label=='d'?'Haushaltsverschuldung':datum.label=='t1'?'Top 1 % Einkommensanteil':'Top 10 % Einkommensanteil'"}}}},
{"transform":[{"fold":["t1","t10"],"as":["s","v"]},{"filter":"isValid(datum.v)"}],"mark":{"type":"line","strokeWidth":3},"encoding":{"x":{"field":"year","type":"quantitative"},"y":{"field":"v","type":"quantitative","scale":{"domain":[0,50],"nice":false},"axis":{"orient":"right","offset":-31,"values":[0,10,20,30,40,50],"domain":false,"ticks":false,"tickSize":0,"labelPadding":30,"labelAlign":"right","labelFont":"Liberation Sans","labelFontSize":15,"labelColor":"#1a1a1a","grid":false,"title":"Topeinkommensanteile, in %","titleAngle":0,"titleAlign":"right","titleBaseline":"middle","titleX":31,"titleY":-25,"titleFont":"Liberation Sans","titleFontSize":12.5,"titleFontWeight":"normal","titleColor":"#1a1a1a"}},"color":{"field":"s","type":"nominal","legend":{"title":null,"labelExpr":"datum.label=='d'?'Haushaltsverschuldung':datum.label=='t1'?'Top 1 % Einkommensanteil':'Top 10 % Einkommensanteil'"}}}}
]}]}
]},
{"spacing":35,"hconcat":[
{"spacing":14.5,"vconcat":[
{"width":644,"height":29,"view":{"fill":"#e2001a","stroke":null},"data":{"values":[{"t":"Vereinigtes Königreich"}]},"mark":{"type":"text","color":"#ffffff","font":"Liberation Sans","fontSize":20,"fontWeight":"bold"},"encoding":{"text":{"field":"t","type":"nominal"}}},
{"width":644,"height":299,"data":{"name":"rows"},"transform":[{"filter":"datum.c=='UK'"}],"resolve":{"scale":{"y":"independent"}},"layer":[
{"transform":[{"filter":"isValid(datum.d)"}],"mark":{"type":"line","strokeWidth":3},"encoding":{"x":{"field":"year","type":"quantitative","scale":{"domain":[1978.8,2011],"range":[42,613],"nice":false,"zero":false},"axis":{"values":[1980,1985,1990,1995,2000,2005,2010],"format":"d","title":null,"grid":false,"domainColor":"#000000","domainWidth":3.5,"tickColor":"#555555","tickWidth":1,"tickSize":10,"labelPadding":7,"labelFlush":false,"labelOverlap":false,"labelFont":"Liberation Sans","labelFontSize":16,"labelColor":"#1a1a1a"}},"y":{"field":"d","type":"quantitative","scale":{"domain":[0,250],"nice":false},"axis":{"orient":"left","offset":-42,"values":[0,50,100,150,200,250],"domain":false,"ticks":false,"tickSize":0,"labelPadding":16,"labelFont":"Liberation Sans","labelFontSize":15,"labelColor":"#1a1a1a","grid":true,"gridDash":[1.3,3],"gridColor":"#333333","gridWidth":1.3,"title":"Verschuldung d. privaten Haushalte, in % der verfügbaren Haushaltseinkommen","titleAngle":0,"titleAlign":"left","titleBaseline":"middle","titleX":-42,"titleY":-25,"titleFont":"Liberation Sans","titleFontSize":12.5,"titleFontWeight":"normal","titleColor":"#1a1a1a"}},"color":{"datum":"d","type":"nominal","scale":{"domain":["d","t1","t10"],"range":["#e2001a","#000000","#b3b3b3"]},"legend":{"title":null,"labelExpr":"datum.label=='d'?'Haushaltsverschuldung':datum.label=='t1'?'Top 1 % Einkommensanteil':'Top 10 % Einkommensanteil'"}}}},
{"transform":[{"fold":["t1","t10"],"as":["s","v"]},{"filter":"isValid(datum.v)"}],"mark":{"type":"line","strokeWidth":3},"encoding":{"x":{"field":"year","type":"quantitative"},"y":{"field":"v","type":"quantitative","scale":{"domain":[0,50],"nice":false},"axis":{"orient":"right","offset":-31,"values":[0,10,20,30,40,50],"domain":false,"ticks":false,"tickSize":0,"labelPadding":30,"labelAlign":"right","labelFont":"Liberation Sans","labelFontSize":15,"labelColor":"#1a1a1a","grid":false,"title":"Topeinkommensanteile, in %","titleAngle":0,"titleAlign":"right","titleBaseline":"middle","titleX":31,"titleY":-25,"titleFont":"Liberation Sans","titleFontSize":12.5,"titleFontWeight":"normal","titleColor":"#1a1a1a"}},"color":{"field":"s","type":"nominal","legend":{"title":null,"labelExpr":"datum.label=='d'?'Haushaltsverschuldung':datum.label=='t1'?'Top 1 % Einkommensanteil':'Top 10 % Einkommensanteil'"}}}}
]}]},
{"spacing":14.5,"vconcat":[
{"width":644,"height":29,"view":{"fill":"#e2001a","stroke":null},"data":{"values":[{"t":"USA"}]},"mark":{"type":"text","color":"#ffffff","font":"Liberation Sans","fontSize":20,"fontWeight":"bold"},"encoding":{"text":{"field":"t","type":"nominal"}}},
{"width":644,"height":299,"data":{"name":"rows"},"transform":[{"filter":"datum.c=='US'"}],"resolve":{"scale":{"y":"independent"}},"layer":[
{"transform":[{"filter":"isValid(datum.d)"}],"mark":{"type":"line","strokeWidth":3},"encoding":{"x":{"field":"year","type":"quantitative","scale":{"domain":[1978.8,2011],"range":[42,613],"nice":false,"zero":false},"axis":{"values":[1980,1985,1990,1995,2000,2005,2010],"format":"d","title":null,"grid":false,"domainColor":"#000000","domainWidth":3.5,"tickColor":"#555555","tickWidth":1,"tickSize":10,"labelPadding":7,"labelFlush":false,"labelOverlap":false,"labelFont":"Liberation Sans","labelFontSize":16,"labelColor":"#1a1a1a"}},"y":{"field":"d","type":"quantitative","scale":{"domain":[0,250],"nice":false},"axis":{"orient":"left","offset":-42,"values":[0,50,100,150,200,250],"domain":false,"ticks":false,"tickSize":0,"labelPadding":16,"labelFont":"Liberation Sans","labelFontSize":15,"labelColor":"#1a1a1a","grid":true,"gridDash":[1.3,3],"gridColor":"#333333","gridWidth":1.3,"title":"Verschuldung d. privaten Haushalte, in % der verfügbaren Haushaltseinkommen","titleAngle":0,"titleAlign":"left","titleBaseline":"middle","titleX":-42,"titleY":-25,"titleFont":"Liberation Sans","titleFontSize":12.5,"titleFontWeight":"normal","titleColor":"#1a1a1a"}},"color":{"datum":"d","type":"nominal","scale":{"domain":["d","t1","t10"],"range":["#e2001a","#000000","#b3b3b3"]},"legend":{"title":null,"labelExpr":"datum.label=='d'?'Haushaltsverschuldung':datum.label=='t1'?'Top 1 % Einkommensanteil':'Top 10 % Einkommensanteil'"}}}},
{"transform":[{"fold":["t1","t10"],"as":["s","v"]},{"filter":"isValid(datum.v)"}],"mark":{"type":"line","strokeWidth":3},"encoding":{"x":{"field":"year","type":"quantitative"},"y":{"field":"v","type":"quantitative","scale":{"domain":[0,50],"nice":false},"axis":{"orient":"right","offset":-31,"values":[0,10,20,30,40,50],"domain":false,"ticks":false,"tickSize":0,"labelPadding":30,"labelAlign":"right","labelFont":"Liberation Sans","labelFontSize":15,"labelColor":"#1a1a1a","grid":false,"title":"Topeinkommensanteile, in %","titleAngle":0,"titleAlign":"right","titleBaseline":"middle","titleX":31,"titleY":-25,"titleFont":"Liberation Sans","titleFontSize":12.5,"titleFontWeight":"normal","titleColor":"#1a1a1a"}},"color":{"field":"s","type":"nominal","legend":{"title":null,"labelExpr":"datum.label=='d'?'Haushaltsverschuldung':datum.label=='t1'?'Top 1 % Einkommensanteil':'Top 10 % Einkommensanteil'"}}}}
]}]}
]}
],
"config":{
"view":{"stroke":null},
"legend":{"orient":"none","legendX":346,"legendY":1735,"direction":"horizontal","labelFont":"Liberation Sans","labelFontSize":20,"labelColor":"#1a1a1a","labelLimit":500,"labelOffset":12,"columnPadding":39,"symbolType":"stroke","symbolSize":1296,"symbolStrokeWidth":4,"padding":0}
}
}
